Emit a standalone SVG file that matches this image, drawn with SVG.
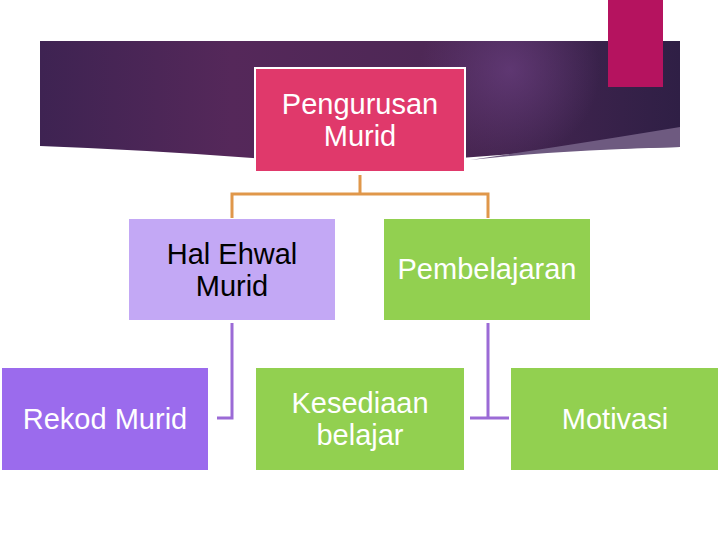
<svg xmlns="http://www.w3.org/2000/svg" width="720" height="540" viewBox="0 0 720 540">
<defs>
<linearGradient id="ban" x1="0" y1="0" x2="1" y2="0">
<stop offset="0" stop-color="#3e2352"/>
<stop offset="0.3" stop-color="#55285a"/>
<stop offset="0.6" stop-color="#4e2856"/>
<stop offset="1" stop-color="#2f1f45"/>
</linearGradient>
<radialGradient id="glow" cx="510" cy="70" r="90" gradientUnits="userSpaceOnUse">
<stop offset="0" stop-color="#6a3f80" stop-opacity="0.7"/>
<stop offset="1" stop-color="#6a3f80" stop-opacity="0"/>
</radialGradient>
<style>
.t{font-family:"Liberation Sans",Arial,sans-serif;font-size:29px;text-anchor:middle}
.w{fill:#ffffff}
.k{fill:#000000}
.oc{stroke:#e0974a;stroke-width:3;fill:none}
.pc{stroke:#9b6bd6;stroke-width:3;fill:none}
.green{fill:#92d050}
</style>
</defs>
<rect width="720" height="540" fill="#ffffff"/>
<g id="banner">
<path d="M40,41 H680 V147 Q520,150 360,167 Q200,152 40,146 Z" fill="url(#ban)"/>
<path d="M40,41 H680 V147 Q520,150 360,167 Q200,152 40,146 Z" fill="url(#glow)"/>
<path d="M680,127 V147 Q560,150 470,160 Q590,142 680,127 Z" fill="#6e5a80"/>
</g>
<rect x="608" y="0" width="55" height="87" fill="#b5135f"/>
<g id="connectors">
<path class="oc" d="M360,175 V194 M232,218 V194 H488 V218"/>
<path class="pc" d="M232,323 V418 H217"/>
<path class="pc" d="M488,323 V418 M470,418 H509"/>
</g>
<g id="n-pengurusan">
<rect x="255" y="68" width="210" height="104" fill="#e0396b" stroke="#ffffff" stroke-width="2"/>
<text class="t w" x="360" y="114">Pengurusan</text>
<text class="t w" x="360" y="146">Murid</text>
</g>
<g id="n-hal">
<rect x="129" y="219" width="206" height="101" fill="#c3a8f5"/>
<text class="t k" x="232" y="264">Hal Ehwal</text>
<text class="t k" x="232" y="296">Murid</text>
</g>
<g id="n-pembelajaran">
<rect x="384" y="219" width="206" height="101" class="green"/>
<text class="t w" x="487" y="279">Pembelajaran</text>
</g>
<g id="n-rekod">
<rect x="2" y="368" width="206" height="102" fill="#9b6bed"/>
<text class="t w" x="105" y="429">Rekod Murid</text>
</g>
<g id="n-kesediaan">
<rect x="256" y="368" width="208" height="102" class="green"/>
<text class="t w" x="360" y="413">Kesediaan</text>
<text class="t w" x="360" y="445">belajar</text>
</g>
<g id="n-motivasi">
<rect x="511" y="368" width="207" height="102" class="green"/>
<text class="t w" x="615" y="429">Motivasi</text>
</g>
</svg>
